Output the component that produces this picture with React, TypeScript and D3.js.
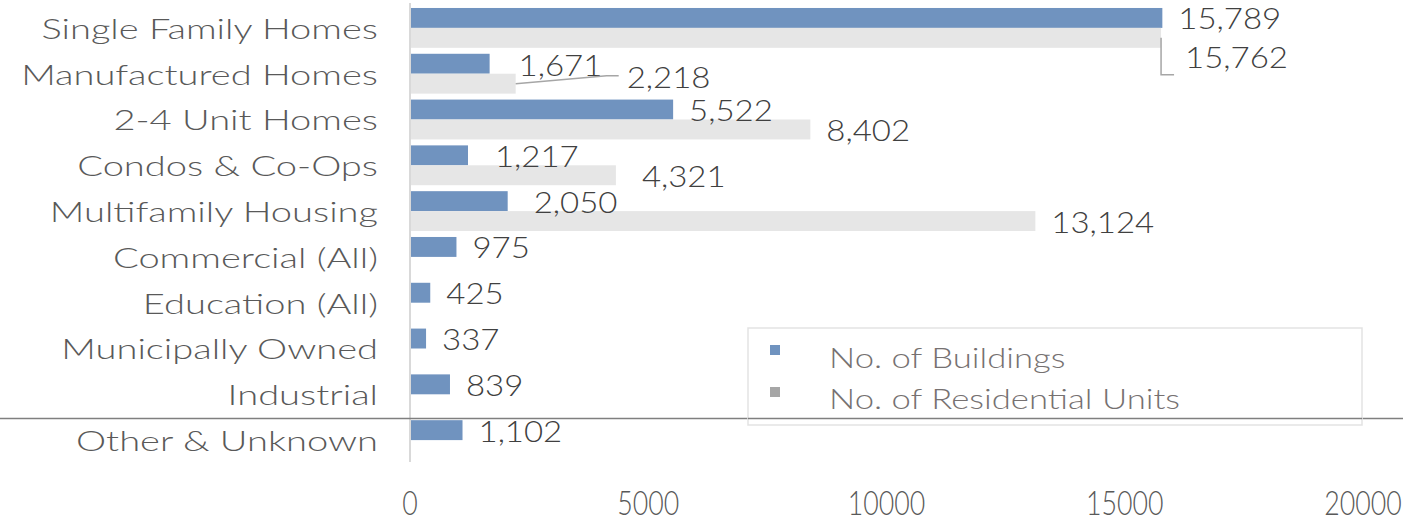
import React from "react";
import * as d3 from "d3";

const categories = [
  "Single Family Homes",
  "Manufactured Homes",
  "2-4 Unit Homes",
  "Condos & Co-Ops",
  "Multifamily Housing",
  "Commercial (All)",
  "Education (All)",
  "Municipally Owned",
  "Industrial",
  "Other & Unknown",
];
const seriesNames = ["No. of Buildings", "No. of Residential Units"];
const buildings = [15789, 1671, 5522, 1217, 2050, 975, 425, 337, 839, 1102];
const residentialUnits: (number | null)[] = [15762, 2218, 8402, 4321, 13124, null, null, null, null, null];
const xTicks = [0, 5000, 10000, 15000, 20000];

// layout / style (not data)
const W = 1403;
const H = 521;
const FONT = "Lato, 'DejaVu Sans', sans-serif";
const colors = ["#7093bf", "#e6e6e6"];
const legendColors = ["#7093bf", "#a6a6a6"];
const labelNudge: Record<string, { dx?: number; dy?: number; leader?: "down" | "diag" }> = {
  "0|1": { dx: 24, dy: 19, leader: "down" },
  "1|0": { dx: 29, dy: 1 },
  "1|1": { dx: 111, dy: -7, leader: "diag" },
  "3|0": { dx: 27 },
  "3|1": { dx: 26 },
  "4|0": { dx: 26 },
};

function SText(props: {
  x: number; y: number; sx: number; size: number; fill: string; anchor?: "start" | "middle" | "end"; children: React.ReactNode;
}) {
  const { x, y, sx, size, fill, anchor = "start", children } = props;
  return (
    <text
      transform={`translate(${x},${y}) scale(${sx},1)`}
      dy="0.35em"
      textAnchor={anchor}
      fontSize={size}
      fill={fill}
      fontFamily={FONT}
      fontWeight={300}
    >
      {children}
    </text>
  );
}

export default function App() {
  const x = d3.scaleLinear().domain([0, 20000]).range([410, 1363]);
  const y = d3.scaleBand<string>().domain(categories).range([5, 463]).paddingInner(0.13).paddingOuter(0.065);
  const sub = d3.scaleBand<string>().domain(seriesNames).range([0, y.bandwidth()]);
  const fmt = d3.format(",");
  const series = [buildings, residentialUnits];

  const bars: React.ReactNode[] = [];
  const labels: React.ReactNode[] = [];
  series.forEach((vals, si) => {
    vals.forEach((v, ci) => {
      if (v == null) return;
      const y0 = (y(categories[ci]) ?? 0) + (sub(seriesNames[si]) ?? 0);
      const h = sub.bandwidth();
      const x1 = x(v);
      bars.push(
        <rect key={`b${si}-${ci}`} x={x(0)} y={y0} width={x1 - x(0)} height={h} fill={colors[si]} />
      );
      const n = labelNudge[`${ci}|${si}`] || {};
      const dx = n.dx ?? 16;
      const dy = n.dy ?? 0;
      const cy = y0 + h / 2;
      const tx = x1 + dx;
      const ty = cy + dy;
      if (n.leader === "down") {
        labels.push(
          <path key={`l${si}-${ci}`} d={`M${x1},${cy} V${ty + 18} H${x1 + 13}`} fill="none" stroke="#a6a6a6" strokeWidth={1.5} />
        );
      } else if (n.leader === "diag") {
        labels.push(
          <path key={`l${si}-${ci}`} d={`M${x1},${cy} L${tx - 20},${ty - 1} H${tx - 8}`} fill="none" stroke="#a6a6a6" strokeWidth={1.5} />
        );
      }
      labels.push(
        <SText key={`t${si}-${ci}`} x={tx} y={ty + 1} sx={1.1} size={30} fill="#404040">
          {fmt(v)}
        </SText>
      );
    });
  });

  return (
    <svg width={W} height={H} style={{ position: "absolute", left: 0, top: 0, background: "#fff" }}>
      {bars}
      <line x1={x(0)} x2={x(0)} y1={3} y2={462} stroke="#d9d9d9" strokeWidth={2} />
      {categories.map((c) => (
        <SText key={c} x={378} y={(y(c) ?? 0) + y.bandwidth() / 2 + 1} sx={1.36} size={28} fill="#595959" anchor="end">
          {c}
        </SText>
      ))}
      {xTicks.map((t) => (
        <SText key={t} x={x(t)} y={503} sx={0.81} size={33} fill="#595959" anchor="middle">
          {t}
        </SText>
      ))}
      {labels}
      <line x1={0} x2={W} y1={418.5} y2={418.5} stroke="#7f7f7f" strokeWidth={1.5} />
      <rect x={748} y={328} width={614} height={97} fill="#fff" stroke="#e3e3e3" strokeWidth={1.5} />
      <line x1={748} x2={1362} y1={418.5} y2={418.5} stroke="#7f7f7f" strokeWidth={1.5} />
      {seriesNames.map((s, i) => (
        <g key={s}>
          <rect x={770} y={345 + i * 42} width={10} height={10} fill={legendColors[i]} />
          <SText x={829} y={358 + i * 41} sx={1.24} size={28} fill="#767171">
            {s}
          </SText>
        </g>
      ))}
    </svg>
  );
}
